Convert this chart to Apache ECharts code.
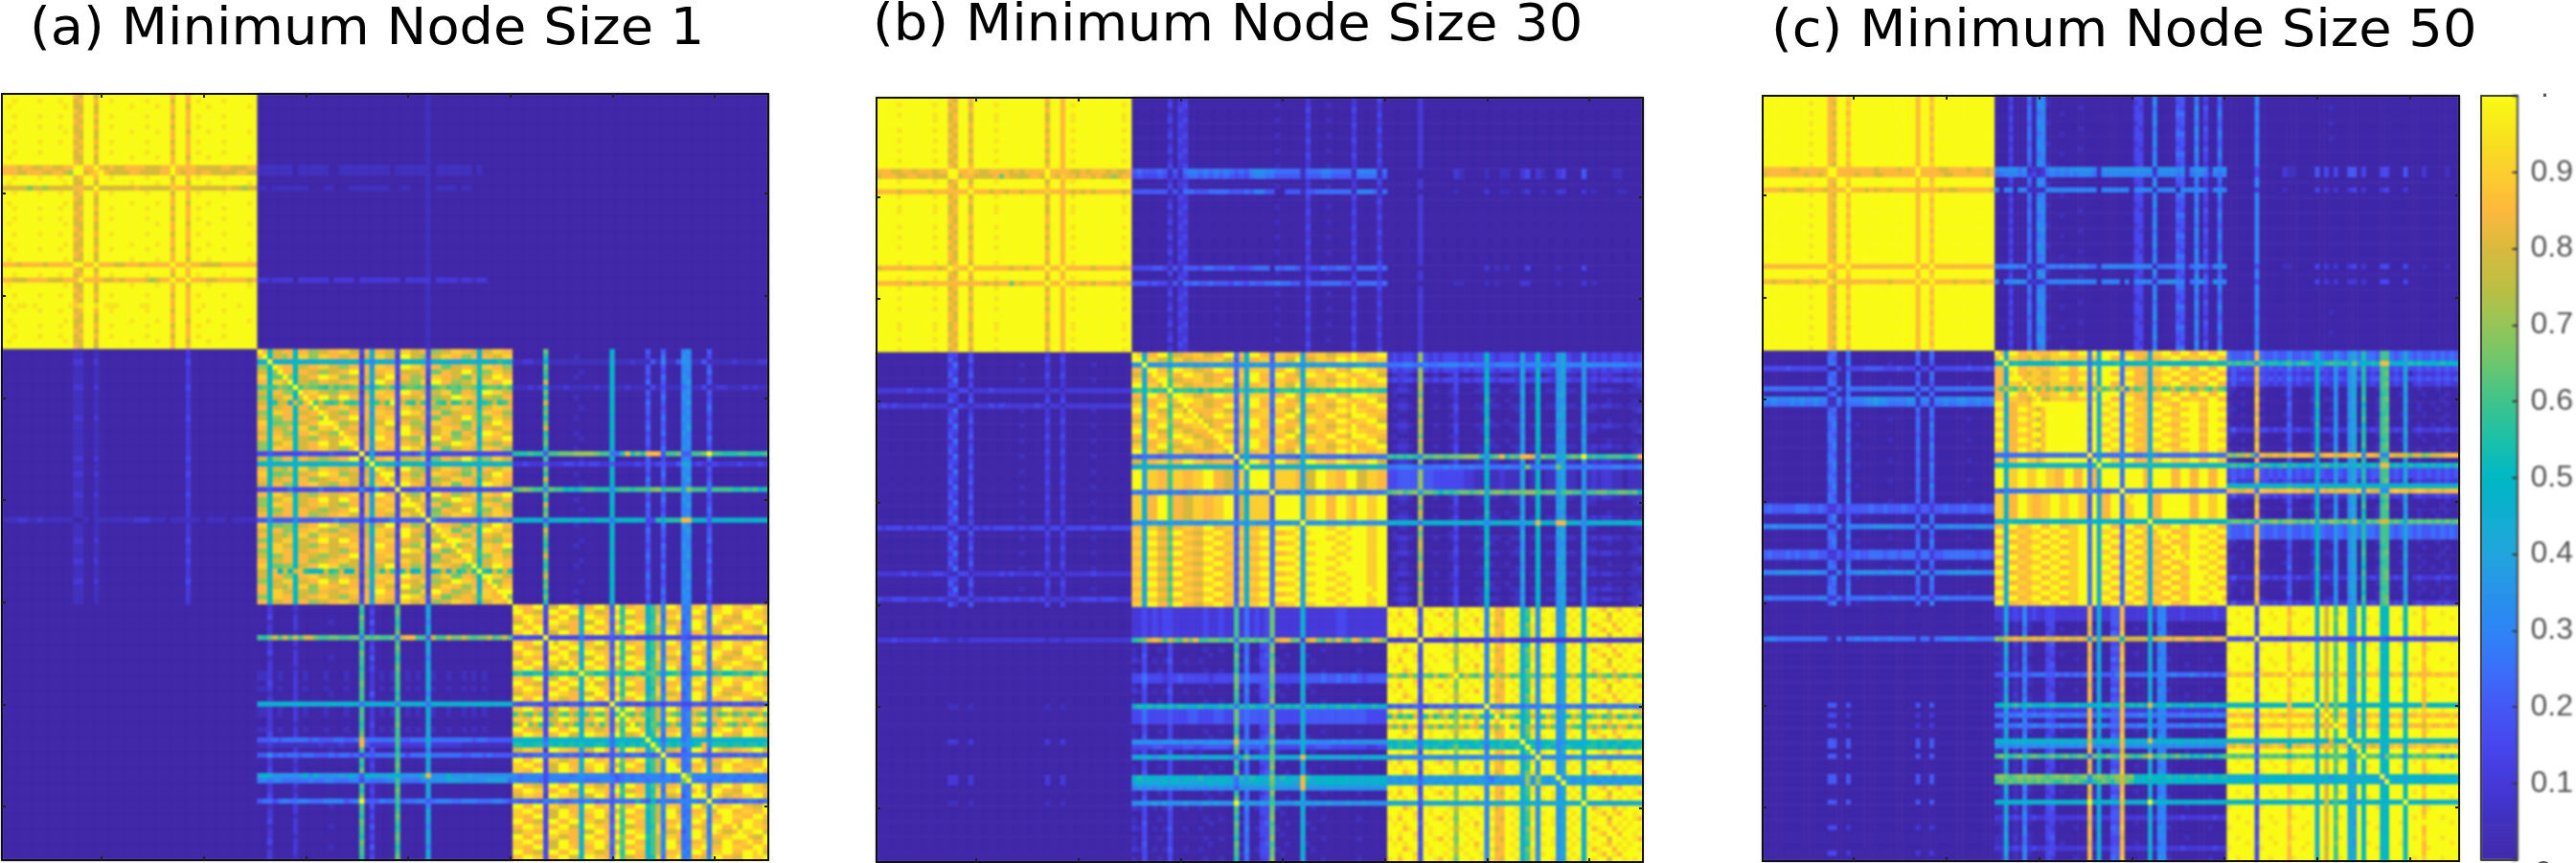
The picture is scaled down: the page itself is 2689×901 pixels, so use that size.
<!DOCTYPE html>
<html><head><meta charset="utf-8">
<script src="https://cdn.jsdelivr.net/npm/echarts@6/dist/echarts.min.js"></script>
<style>html,body{margin:0;padding:0;background:#fff}#c{width:2689px;height:901px}
canvas[data-zr-dom-id="zr_1"]{filter:blur(0.9px)}</style></head>
<body><div id="c"></div>
<script>
// One character = one cell, value = index in this scale / 20.
const valueScale = "0123456789abcdefghijk";
const panelTitles = ["(a) Minimum Node Size 1", "(b) Minimum Node Size 30", "(c) Minimum Node Size 50"];
const colorbarTicks = [0.1,0.2,0.3,0.4,0.5,0.6,0.7,0.8,0.9];
const zeroRows = "zzzzzzzzzz zzzzzzzzzz zzzzzzzzzz zzzzzzzzzz zzzzzzzzzz";
const zeroSegs = {z:"0000000000 0000000000 0000000000 0000000000 0000000000"};

// ---------- panel (a)
const a11Rows = "pqrpqpqrpq pqrpsSqrtq prqpqrpqpr qprupqvrpq pwqprqpqrp";
const a11Segs = {
p:"kkkkkkkkkk kkkkhgkkgk kkkkkkkkkk kkkhkkhkkk kkkkkkkkkk",
q:"kkjkkkkjkk kjkkghkkhk kjkkkkkkjk kkkgkkhkjk kkkjkkkkkk",
r:"kjkkkkkkkk kkjkggkkgk kkkkkjkkkk jkkhkkgkkk jkkkkkkkjk",
s:"hhhghhgghh gghhkkhhkh ghgghhhhgg ghhkhhhhgg ggghhggghh",
S:"hhhgghhhgg hhgekkghik hgggghhggg ghhkhghhgh hggggghhgg",
t:"gggggdggeg gggghhggjg gggggghggg gggihhhggg gggghggegg",
u:"hhhghhhhgh hhhhkkhhkh hhgghhhghh hhhkhhjhhg ggghhhhhhh",
v:"hhggghhhhg gghhhkhhhh gghghhhhge ghhkhhkhhh gghhhhhhgh",
w:"kjkjjkjkkk kkkjijkkjk jjjkkkkjjk kkkhkkhkkj kkkkkkjkkk"};
const a12Rows = "aaaaaaaaaa aaaabbaaca aaaaaaaaaa aaaaaadaaa aaaaaaaaaa";
const a12Segs = {
a:"0000000000 0000000000 0000000000 0001000000 0000000000",
b:"1111111011 1111001111 1111110111 1111011111 1101000000",
c:"1101111111 0001100011 1111110011 0001011110 1100000000",
d:"2212222022 2222022220 2222222202 2222022221 2212200000"};
const a21Rows = "ffhffffhff fffhffffff fhffhfffhf fffgfffhff fhfffhffff";
const a21Segs = {
f:"0000000000 0000110010 0000000000 0000002000 0000000000",
g:"1112211211 1111001011 1111112221 1101111110 1111011111",
h:"0000000000 0000220020 0000000000 0000003000 0000000000"};
const a22Rows = "ABlCDEFmGH nACDEBGFHC RDTBEAGYFH CDAWEGBHFC DAEXGHBFCA";
const a22Segs = {
A:"hhagghhahh eegghhiigg 3h9hhgg3ii ggh3eeggii hhg9ggiihh",
B:"hhaggehaii eeiihhgghh 2g8iigg2kk gge3ggiihh eeh9hhggii",
C:"eeaiihhagg hhiiggeehh 3h7iihh3kk iig4hhddgg hhgbiihhee",
D:"ggaeehhahh ggeegghhkk 2h9hhii3gg ggh3ddhhgg kkgbeeiigg",
E:"iiaddeeagg hhkkiieegg 3g8ggkk2hh eeg3iihhgg ddhbggkkhh",
F:"hhaiiggagg eehhgghhii 2h7kkhh3gg eei2kkhhee ggi9iihhkk",
G:"ggahheeahh iiggeehhgg 2gaiihh3kk hhg3ggiidd hhgakkiigg",
H:"eeaggiiagg hhkkggkkhh 3h8hhii3hh ggi3eeggkk iih9ggeehh",
l:"99k8998a99 8a99a88999 3a6998838a 9a9499a888 aa98a99b99",
m:"cdbcedckce ddcbecdcde 3c7cdec3cd dcd3cdecdc eedacddcec",
n:"gg9bgg9gch bcgcbcgcbc 3gacgck3gc bgc3gcbgbc gcgabcgbcg",
R:"3343333334 3333433333 k383333344 3483333333 3333333333",
T:"9a8a99a9a9 99a9a99a99 4akab9a69a 9a9599aa99 9a99a99a99",
Y:"3343335333 3353333433 6336333k33 3435333333 3343333333",
W:"4464444644 4444464444 3634446444 444k644444 4444644464",
X:"gg9hagaghb a9agbcg9ag 3gagbgc3bg 9ag39bg9gb cgbkb9gcgb"};
const a23Rows = "abeadbcfab cdabacbdab RdTabcdYab cdaWbcadba cdbacdabab";
const a23Segs = {
a:"000000d000 000000000a 0000004004 0006700040 0000000000",
b:"000000b000 0010000009 0000003005 0007600030 0000000000",
c:"000000g000 000000000a 0000005004 0006800040 0000000000",
d:"000000c000 000100000a 0000004003 0006600050 0000000000",
e:"1122119111 1111111119 1112111416 1147711411 1112111122",
f:"1112129111 2111112119 1121111313 1115611311 2211121211",
R:"bbbcbb4ccd ddeeeedcc5 5bhbdbhhh4 ccd44ccdkc cbbbccbbbc",
T:"2232224222 3323233224 2222324234 2248823223 2222322232",
Y:"cdedcc6dcc ab9bccbbb6 bccbcccdeb ccc8eccc5c cccbbcbc9b",
W:"aa9a9a4a9a a9a9a7aaa5 a9aa9a33ba bbbhhaaa4a 99a9a99a9a"};
const a32Rows = "abcdabGabc dabeecedaH eeabecIJdK abcLMabcNd abcdabcdab";
const a32Segs = {
a:"0020000200 0000000000 c020000c00 0009000000 0000000000",
b:"0020000100 0000000000 b030000d00 0008000000 0000000000",
c:"0030000200 0000000000 d020000c00 0008000000 0000000000",
d:"0010000200 0000100000 c040000b00 0006000000 0000000000",
e:"1120100201 0001000100 c020101c01 0109100100 1010100000",
G:"cbdgcgcgcg gdccddccdd 5dcdccd5gh hcc4gccgdd gdcddgcdgc",
H:"9a999a99a9 9999a999a9 5a99a9a5a9 9a95a9a999 a99a9a99a9",
I:"4445455555 4544455445 h555555c44 5559555555 5545544444",
J:"1121111111 1121112111 h422222c22 2229222222 1111111111",
K:"4474545545 5444545545 3545555c53 5558555555 4455454444",
L:"8a9777777a 6a777787a7 4a9988a977 77ah777a77 7877777777",
M:"6656655555 6556655566 3655566c55 5567777888 7777788885",
N:"4553565566 5556666456 k444655c45 5664566655 6665556654"};
const a33Rows = "ABCDEFKABC DEFLABCDEN FPAQBCRSDT EFAUVBCDWE FABCDEFABC";
const a33Segs = {
A:"iihhkk3ggk kih9hhkkg4 kchhiiacg6 kkh56iik6h hkkiihhkkh",
B:"kkhhgg3kkh hkk9iiggh4 ibkkhhacg6 hhi65kkh5i ikkhhkkiig",
C:"hhkkii3hhk kgg9kkiih5 kcgghh9bi5 iik56hhg6k khhggkkiih",
D:"ggiihh2kki ihh8ggkkh4 hbkkii9ci6 ggh46kkh5k igghhiikkg",
E:"kkhhkk3iig ghh9kkhhi4 kdhhkkbcg7 iih56kkg6h hiikkhhggk",
F:"iikkhh3ggk khh9iikkh5 gckkhhacg6 kkg55hhi6g gkkhhiihhk",
K:"334333k333 3335333334 3434333333 3334333433 3333433333",
L:"bc9abb4acb cabkccabb5 cbabcacdb6 abc45aab5b caabcbacdb",
N:"4344434434 344354433k 5434343443 4443344344 3434433434",
P:"cgdcgd3cgd cgd9cgdcg4 ckdcgdbcg6 gdc57gdc6g cdgcdgcdgc",
Q:"dgkdgc3dgh dgc9gdhcg4 gcgkdgadc6 dgc56gdc6d hgdcgdhgdc",
R:"a9a9aa5a9a 9a9a9a9a95 9a9a9aka95 9a957a9a7a a9aaa9a9aa",
S:"bbaabb6bab abab9abba5 ab9bab9kb6 bab77abh7b bbabbabbab",
T:"4544555455 4545345344 554554545k 5445555444 4544545454",
U:"6566663666 6567666665 4565656665 756kd66676 6566566565",
V:"6566653665 5666555666 4565665666 656dk65656 5665656656",
W:"5454546565 4565664554 5555954a56 55666656k5 5454556545"};

// ---------- panel (b)
const b11Rows = "pqpqqpqpqp qpqpsSqptq pqqppqpqpq ppqupqvqpq pqppqqpqpq";
const b11Segs = {
p:"kkkkkkkkkk kkkkhgkkhk kkkkkkkkkk kkkhkkhkkk kkkkkkkkkk",
q:"kkkkjkkkkk kjkkghkkgk kkkjkkkkkk kkkgkkhkjk kkkkkkkkjk",
s:"hhhgghhghh hghhkkhhih gghhhhghgh hhhkhhhhgg hghhhghggh",
S:"ghhhgghhgg hgggkkghhg ggghdhggfg hhgkhgihhg hhghggeghh",
t:"hhhhghhhhh ghhhhhhhkh hhghhghhgh hhhihhhhgh ghghhhhhgh",
u:"ghhhhhghhh hhghkihhkh hhhhhhghhg hhhkhhkhhh hhghhhhhgh",
v:"hhhhhhghhg hhhhhhhhhh hghghhdhgh hhhkhhkhhh ghghhhghhg"};
const b12Rows = "abcabcabca bcabsSabtc abcabcabca bcaubcvabc abcabcabca";
const b12Segs = {
a:"0000000202 2000000000 0000000000 0000200000 0002000030",
b:"0000000302 3000000000 0000000010 0000200010 0002000020",
c:"0000000103 2000000000 0000000000 0000300000 0003000020",
s:"4544454141 5665656565 4546776655 5551555665 5551666615",
S:"3433343131 4554545454 3435665544 4441444554 4441555514",
t:"4444444141 5544455554 4454664400 4441445555 5551666515",
u:"3333443141 4443554445 3334555054 5541333544 5541555535",
v:"4443433141 5454454443 5435445565 5441444555 5441555535"};
const b13Rows = "aaaaaaaaaa aaaabbaaca aaaaaaaaaa aaadaaeaaa aaaaaaaaaa";
const b13Segs = {
a:"0000002000 0000000000 0000000000 0000000000 0000000000",
b:"0000000000 0002100001 0011002302 1002300040 0000110000",
c:"0000000000 0001000002 0011001200 1002200020 1000011000",
d:"0000000000 0000000002 0101000300 0001000030 0000000000",
e:"0000000000 0001100001 0100002200 0001000020 1000000000"};
const b21Rows = "abcabcadab ecabcabcab cabcabcabc abcafbcabc abcgabcahb";
const b21Segs = {
a:"0000000000 0000330030 0000000000 0002002000 0000000000",
b:"0000000000 0000420040 0000000000 0003003000 0000000000",
c:"0000000000 0000250020 0000000010 0002002000 0010000000",
d:"2222223222 3222113312 2232222222 2221221222 2222222222",
e:"2323222223 2222113212 2232322222 2321221222 2222222222",
f:"3233323233 2333113313 2323333232 3331331333 3233323333",
g:"2222232322 2332113312 2222323222 2321221222 2232222222",
h:"3223332223 2232113312 2232332322 3231221222 3332333222"};
const b22Rows = "ABlCDABmCD ABCDABCDAB RDTEEEEYFF FFFWGHGHGH GHGHGHGHGH";
const b22Segs = {
A:"ii8hhkkcgg hhiigghhkk 5h9kkhh5ii hhi8hhiigg iihkhhiikk",
B:"kk9iiggcii gghhhhiigg 4g9hhii4ii ggk8ggiihh kkikiihhii",
C:"hh8kkhhckk iigghhkkii 5h8iiii5hh kkg8iihhkk hhgkkkiihh",
D:"gg9hhiidhh kkiigghhhh 4i9kkhh5kk hhg9kkiihh kkihiikkgg",
E:"kk8iihhcii hhiikkhhgg 5i8kkkk5ii iih8ggkkii hhkkggiihh",
F:"ii9hhkkchh ggiihhiikk 4g9iiii4kk kkk8iikkhh kkihkkiikk",
G:"hh8iiggchh iihhkkhhii 4h9hhii5kk kki8kkkkii kkikkkiikk",
H:"ii9kkhhdkk hhggiikkhh 5i8iikk5hh iik8iikkkk iikkkkiikk",
l:"77k7778787 7878787787 5787877587 7877878787 7877887787",
m:"bcadbcbkbc cbcadbcbcc 5c8bcbc5bc cbc8bcbcbc bcbcbcbcbb",
R:"5455545555 5554545555 k695555655 5548655555 5545555655",
T:"898a898a89 a989a89a89 5ak98a9689 9a889a9a89 89a9a89a89",
Y:"6565656565 5656565656 6965656k56 5659565656 5656565656",
W:"7777877877 8777787877 6878777677 787k777877 7877877777"};
const b23Rows = "iieiaibacd abcdabcdab RaTvvvvYab cdaWbcadba cdbacdabab";
const b23Segs = {
a:"012210e001 001300011a 110011801a 0117811071 2122110111",
b:"001100f000 000300001a 000001700a 0007800071 1000000012",
c:"010000d000 001200000a 000000800a 0008800070 0000000000",
d:"001100g000 000200000b 100100700a 0007700080 0001000010",
i:"232332e323 233323233a 323332833a 3327832272 3232332323",
e:"5556655655 6666556557 5666657667 6577866677 6666666555",
R:"cbcbcb6dcd dcdddeeeb6 cdhbdchhg6 dcc88cdckb cbbcccbbch",
T:"5566656555 5656556558 5556557d56 556d855556 5555665556",
v:"334444e443 333332211a 112111801a 0117811071 2122110111",
Y:"cdecde7ddc acbcddcde8 dedcdddeec cdd8cdcc7c cddccddcda",
W:"9a9a9a5a9a a9a9a8a9a6 9a9a9a7a9h aa9hhaa96a 9a9a9a9a9a"};
const b31Rows = "zzzzzzkzzz zzzzzzzzzo zzzzzznzzz zzznnzzzoz zzzzzzzzzz";
const b31Segs = {
z:"0000000000 0000000000 0000000000 0000000000 0000000000",
k:"2223222222 2322112122 2222222222 2221221222 2222222222",
o:"0000000000 0000110010 0000000000 0001001000 0000000000",
n:"0000000000 0000220020 0000000000 0002002000 0000000000"};
const b32Rows = "eeeeeeGabc dabffcdabH iiiabcIjdK abcLMPbcNd abcdabcdab";
const b32Segs = {
a:"0030000300 0000000000 c150033d01 0009000000 0000000000",
b:"1030010300 0000100100 b050023e00 0008000100 0000100000",
c:"1040000300 0000010000 d150034c00 1009100000 0000000000",
d:"2130101400 1001000000 c060133d10 0009010000 0000000000",
e:"2232323322 2222322322 c252323d22 2229222222 3322222222",
G:"bcdghgcgdc gdhccddccd 5dcdcdc5gh hdd3ghdcgd hdchgcdhgd",
f:"3353332334 3333323333 d464444d33 3339444544 5445434444",
H:"9bab9bab9b a9ab9a9bab 5b9ba9b5ba bab6b9ab9a b9ab9a9b9a",
i:"3353333433 3443334433 d454444d33 3339444444 4444443333",
I:"7767667776 7677677677 h676767e76 7779776667 6767777777",
j:"3333443333 4433444443 d454453c33 3339334443 3333332233",
K:"8a8a78a8a8 8a78a8a8a7 5ad8a8ad8a 8a8ha8a8a8 8a8a7a8a8a",
L:"ab9aa8a9a9 9a9b99a9a8 5b8baa9e9b 9a9hb9a9a9 aaa9a9a9a9",
M:"8a8989a8a8 a8989a8a99 5898a89d88 a88ha8a9aa 9a8a8a8a9a",
P:"6767676767 6767676767 4777777c77 777h777777 7777777777",
N:"7777878777 8777878777 k878787c77 7787878787 7787787777"};
const b33Rows = "ABCDABKCDA BCDLABCDAN BPCQDARSAT BCDUVABCWD ABCDABCDAB";
const b33Segs = {
A:"kkjkki3kjk kjkekjkkj6 khhkjk9cj7 jkk78kjk9k kjhkjhkkjk",
B:"jkhkkj3kkj hkjdkkjkk6 jhgkkj9cj7 kkj78jkj9k jkkgkkjkjh",
C:"kjkjkk4jkk kjkekjkhk6 khhkjk9bk7 jkj78kjk9j kkjhkjkjkk",
D:"kkkhjk3kjk kkjfjkkjk6 jghkkj8dj7 kkk78jkk9k hjkkhkjkkj",
K:"222322k222 2232222223 2323222222 2222222232 3222222222",
L:"dgdcgd4dcg cdgkcgdcg6 cgdgcdacd7 dgc78dgc9d cgdcgdcgdc",
N:"4545454354 545545455k 5656565656 6565656565 5656565656",
P:"bgbdbg4bgb dgbdgbdgb6 bkbgdb9bg7 bgd78bgd9b dgbdgbdgbd",
Q:"gdgchg3gdg cgdegdhgc6 gdgkcg9dg7 cgd78gdc9g dgcgdhgcgd",
R:"a9b9ba5a9a b9aba9ab96 a9bab9k9a6 9ab67a9a8a bab9ab9aba",
S:"bab9ab5bab 9abdab9ab5 bab9abakb6 ab968ba9ab babab9abab",
T:"6767667677 6767676676 676767677k 6767767867 7676767676",
U:"7878784878 7878787876 5787878e7e 878k787878 7878787878",
V:"7878785787 8787878787 6878787e7e 8787k87878 8787878787",
W:"8988884988 9889889887 8989898998 98898989k9 8989898989"};

// ---------- panel (c)
const c11Rows = "pqpqpqpqpq pqpqsSpqtq pqpqpqpqpq pqpupqvqpq pqpqpqpqpq";
const c11Segs = {
p:"kkkkkkkkkk kkkkhhkkik kkkkkkkkkk kkkhkkhkkk kkkkkkkkkk",
q:"kkkkkkkkkk jkkkhgkkhk kkkkkkkkkk kkkhkkikkk kkkkkkkkkk",
s:"hhhhhhgghh hhhhkkhhhh hhhhghhhhg hhhkhhhhgg hhhhghhhgh",
S:"ghhhhhhhhg hhghkkhhhh ghhhgghhhh hhhkhhhhhg ghhhhhhhgh",
t:"hhhhghhggh hhhghhhhkh hhghghhghh hhhhhhhhgh gghhhhhhhg",
u:"hhhhhhhhhh hhhhkihhkh hhhhhhhhhh hhhkhhkhhh hhhhhhhhhh",
v:"hhghhhhghh hghhkihhhh hhhhhhhghh hhhkhhkhhh hghhhhhghh"};
const c12Rows = "abcdabcdab cdabsSabtd abcdabcdab cdaubcvdab cdabcdabcd";
const c12Segs = {
a:"0003000506 6000000000 0000000000 3300600004 4006030050",
b:"0002000407 6100000000 0000000000 2300700003 4005020040",
c:"0003000506 7000000010 0000000000 3200500004 3007040050",
d:"0002000505 6000100000 0000000000 3300600005 5006030060",
s:"6767757121 2676767777 7617777777 7777177776 7167761767",
S:"5566656231 2565656566 6516666666 6666266665 6156652656",
t:"6066066111 1666666666 6606666660 6666166660 6666651666",
u:"6566656121 2565656566 5516666666 6666155556 6156652676",
v:"6066776121 2566666666 6606666060 6666166776 6056751766"};
const c13Rows = "aabaabaaba aaaaeeaafa aaaaaaaaaa aaagaahaaa aabaaabaaa";
const c13Segs = {
a:"0000006000 0000000000 0000000000 0000000000 0000000000",
b:"0000005000 0000000000 0010000000 0000000000 0000000000",
e:"0000003000 0021100004 0303004403 0003300040 0020000100",
f:"0000002000 0010000003 0202002302 0002300020 0000000000",
g:"0000003000 0011000003 0202002302 0003300030 0010000100",
h:"0000003000 0000000003 0202002202 0003300030 0000000000"};
const c21Rows = "abceabcfag Gabcdabcda bcdabcdabc iidakbcdaj jbcldabcmd";
const c21Segs = {
a:"0000000000 0000450050 0000000000 0005005000 0000000000",
b:"0000000000 0000540050 0000000000 0004005000 0000000000",
c:"0000000000 0000550060 0000000100 0005004000 0000100000",
d:"0000000000 0000460040 1000000000 0005006000 0000000000",
e:"3333343333 3333003033 3344443334 3330330333 3333433343",
f:"5555555555 4555115155 5555555555 5551551555 5555555555",
g:"6676667676 6766116266 6677877666 6771661667 6677667667",
G:"5565556565 5655115155 5566766555 5661551556 5566556556",
i:"4544444555 4454224244 4445445444 5442442445 4445444544",
j:"4544454544 5544224244 5445554554 5552552445 5555554554",
k:"6676666666 6666116166 6666777766 6661661666 7666667766",
l:"6667777766 7766116166 7777677677 6771661666 7777777666",
m:"5655555555 5566225255 5556555565 5552552556 5555555555"};
const c22Rows = "ABlABABmAB CDCDCDCDCD RDTEEEEYFF FFFWGHGHGH GHGHGHGHGH";
const c22Segs = {
A:"hh9kkhhiih hhiikkhhkk 5k8kkkk5ii hhh8iikkhh kkhhkkhhkk",
B:"hh8iihhgii ggiiiihhii 5i9kkhh5kk hhg8hhiikk hhiihhkkhh",
C:"kk9hhiihkk hkkkkkkkkk 5k8iikk5ii iih8kkiihh kkkkiikkkk",
D:"ii8hhkkiig ikkkkkkkkk 4k9kkii5kk hhh9iikkii iikkhhkkii",
E:"kk9iikkiik kiihhkkhhk 5h8kkkk5kk kkh8kkkkhh kkhhkkhhkk",
F:"ii9hhkkihh iikkiikkii 4k8hhkk5ii kkk9hhkkkk kkhhkkiikk",
G:"hh8kkhhikk hhkkhhiikk 5k9kkhh4kk hhi8iihhkk hhkkiikkhh",
H:"kk9hhiihii kkiikkiikk 5k8iikk5ii kkh9hhkkhh iikkkkiikk",
l:"a9k9ba9a9a 9a9b9a9a9b 5a8a9aba7a 9a9bb9a9a9 a9a9a9aba9",
m:"gcgdcgdkgd hdgcgdcgdh 5dgcdgcg6g cdg9dgcdgc dgcdgdcgdc",
R:"5555555555 5555565555 k575555755 5569655555 5565555655",
T:"9a9a9a9a9a a99a9a9a9a 6ak9a9a8a9 9a9b9a9a9a a9a9a9a9a9",
Y:"5465555555 5555565555 7555455k55 5559555555 5555555655",
W:"9a9b9a9a9a 9a9a9a9a9a 7a9a9a9a9a a9ak9a9a9a 9a9a9a9a9a"};
const c23Rows = "eelfgfgabc dabcdgabcd RaTffgOYgb cdaWeeeabc abdcgabdcg";
const c23Segs = {
a:"110000h100 000400001a 001700780b 001cc00080 0100010000",
b:"100100g000 001400001a 000600790b 000bc00170 0010000100",
c:"000000i100 000300002a 011700680c 001cd00080 0000001000",
d:"100100h000 000500001b 000700780a 001cc00070 0100100100",
e:"544454h544 544644545a 544754785b 554cc54585 4544545454",
f:"343433h434 343634343a 433743784b 344cc34383 3434343434",
g:"242222g332 323423222a 232722782b 232cd23280 2322232322",
l:"cbcbcc7cab babc9bcb97 abcbbb9d8a 9bahha9a8b aba9a9baa9",
R:"edeegd5hgg hgghghhhg5 ghhgghhgi6 hhg66hgggd ggdeggghhh",
T:"bcbcba7bcb abcab9ab97 bcab9b8ab8 ab9hhab8ab 9abab9ab9b",
O:"9a9a9a8a9a 9a9b9a9a98 a9a9a9a9a9 a9a88a9a9a 9a9a9a9a9a",
Y:"hhgghh5ihh ghhihhghg7 hghghhhgi7 hgg77hihhg hihghhghhh",
W:"cddcdc6dcd ecdedcdce7 dcedcdcgb8 dcdggcdc8d cdcdcdcdcd"};
const c31Rows = "zzzzzzkzzz zzzzzzzzzn zozozznnzn zzznnzzznz zzzozzzzoz";
const c31Segs = {
z:"0000000000 0000000000 0000000000 0000000000 0000000000",
k:"5665555555 5555105055 6555655655 5551551556 6655665555",
n:"0000000000 0000440040 0000000000 0004004000 0000000000",
o:"0000000000 0000330020 0000000000 0002002000 0000000000"};
const c32Rows = "eeeabcGdab cdafabcdaH eiaibcIJdK abcLMabcNd aebcadbeac";
const c32Segs = {
a:"0180106100 0330000000 h090044h00 0009066000 0000000000",
b:"1190105100 0230100000 g180033h00 1008056000 0000000000",
c:"0170106000 0320000100 h190054i00 0009076100 0000001000",
d:"1180205100 0340000000 h080033g00 0008066000 0100000000",
e:"2282326232 2332222222 h292244h22 2229266222 3222222322",
G:"edgghggghg hgghghgghg 7g8ggggagg gggagghhgh hgghhgghhg",
f:"4454545455 5445454545 h494446h55 5559566565 5565454545",
H:"9ab9c9ab9a 9ab9a9ab9a 9a9ab9agab ab9ha9ab9a 9ab9a9ab9a",
i:"5565565565 5655655655 h596555h55 5659566555 6556556565",
I:"9a9a9a9a9a a9a9a9a9a9 g9a9a9ah9a 9a9h9a9a9a a9a9a9a9a9",
J:"7676767676 7676767676 h676767h76 7679676767 7676767676",
K:"cdcbcdbcdc bcdbcdbcdc 5dcbdcbhdc bcdhbcdbcd bc9b9bc9bc",
L:"dedcdedede dcdededcde 7dedcdegde aaabaaabaa baabaabaab",
M:"cdcdcdcdcd cdcbcdcdcb 7bcdcbdgdc a9a9aa9a9a a9a9a9a9a9",
N:"9a9a9a9a9a 9a9a9a9a9a k9a9a9aha9 9a9k9a9a9a 9a9a9a9a9a"};
const c33Rows = "ABCDABKCDA BCDLABCDAN BPCQDARSAT BCDUVABCWD ABCDABCDAB";
const c33Segs = {
A:"kkkkkk3kkk kkkhkkkkk9 kgkckk98ka kkkaakkkak kkhkkkkkkk",
B:"kkjkkk3kkj kkkhjkkkk9 kgkcjk98ka kkkaakkkak jkikkkjkkk",
C:"kkkkjk4kkk jkkikkkjk9 kgkdkk87ka jkkaakkjak kkhkkkkkjk",
D:"jkkkkk3jkk kkkhkkjkk8 kfkckk98ka kkj9akkkak kkhjkkkkkk",
K:"333433k333 3323333334 3333333333 3334333333 3333333333",
L:"hihihh5ihh ihikhihih9 hghdih99hb hihaahihah ihhhihiihi",
N:"9a9a9a7a9a 9a9ha9a9ak 9g9d9a9a9a a9aaa9a9a9 a9g9a9a9a9",
P:"hhihhh4hih ihghihhih9 hkgchh98ha hiha9hihah hihhihhhih",
Q:"ihhihh3hih hhihhihih8 ghgkih98ha hihaahihah hhgihhihhi",
R:"a9a9a96a9a 9a9a9a9a98 a9g9a9ka9b 9a9aa9a9a9 a9a9a9a9a9",
S:"hgihgh4hgh ihgahghih8 ghgdih9kha hgh99hihah hihghihgih",
T:"dcdcdc5dcd cdcacdcdc9 cbcdcb99dk cdc7dcdc7c dcdcdc7c7c",
U:"9999a96a9a 9a9a9a9999 9a7a8a8899 8a8k8a9a8a 9a9a9a9a9a",
V:"a9a9a96a9a a9a9a9a9a9 8a8a9a8a8a a8a7ka8a8a a9a9a99a9a",
W:"9a9a9a6a9a 9a9a9a9a9a 9g9c9a8a7a 9a9a9a9ak9 a9a9a9a9a9"};

// ---------- assembling the three 150x150 tables
const panelBlocks = [
 [[a11Rows,a11Segs],[a12Rows,a12Segs],[zeroRows,zeroSegs],[a21Rows,a21Segs],[a22Rows,a22Segs],[a23Rows,a23Segs],[zeroRows,zeroSegs],[a32Rows,a32Segs],[a33Rows,a33Segs]],
 [[b11Rows,b11Segs],[b12Rows,b12Segs],[b13Rows,b13Segs],[b21Rows,b21Segs],[b22Rows,b22Segs],[b23Rows,b23Segs],[b31Rows,b31Segs],[b32Rows,b32Segs],[b33Rows,b33Segs]],
 [[c11Rows,c11Segs],[c12Rows,c12Segs],[c13Rows,c13Segs],[c21Rows,c21Segs],[c22Rows,c22Segs],[c23Rows,c23Segs],[c31Rows,c31Segs],[c32Rows,c32Segs],[c33Rows,c33Segs]]
];
const strip = s => s.replace(/ /g,'');
function cells(blocks){
  const out=[];
  for(let bi=0;bi<3;bi++)for(let bj=0;bj<3;bj++){
    const [rows,segs]=blocks[bi*3+bj], map=strip(rows);
    for(let r=0;r<50;r++){
      const seg=strip(segs[map[r]]||"");
      for(let c=0;c<50;c++){
        const R=bi*50+r, C=bj*50+c;
        const v=R===C?1:Math.max(0,valueScale.indexOf(seg[c]||'0'))/20;
        out.push([C,R,v]);
      }
    }
  }
  return out;
}
const indexLabels = Array.from({length:150},(_,i)=>String(i+1));
const colorLevels = Array.from({length:200},(_,i)=>(i+0.5)/200);
const parula = ['#3e26a8','#4030be','#4538d8','#4646ee','#4458f5','#3a6ffa','#2e84f5','#2692ea','#1ea3dc','#0fadd0','#00b8c4','#1cc0a8','#3fc48c','#6cc66e','#95c558','#bcbf42','#d6b93a','#fdb83c','#fbce2e','#f7e41e','#f9fb15'];
const frames = [
 {left:2,top:98,width:800,height:800},
 {left:915,top:102,width:800,height:798},
 {left:1840,top:100,width:727,height:799}
];
const bar = {left:2590,top:100,width:42,height:797.5};

const grids=[],xAxes=[],yAxes=[],series=[];
const tickLine={show:true,lineStyle:{color:'#111',width:2}};
frames.forEach((f,i)=>{
  grids.push(Object.assign({containLabel:false},f));
  const tick={show:true,inside:true,length:4,alignWithLabel:true,lineStyle:{color:'#222',width:2},interval:(k)=>(k+1)%20===0};
  const base={type:'category',data:indexLabels,gridIndex:i,axisLabel:{show:false},axisTick:tick,axisLine:tickLine,splitLine:{show:false},z:6,zlevel:2};
  const xi=xAxes.length, yi=yAxes.length;
  xAxes.push(Object.assign({},base,{position:'bottom'}),Object.assign({},base,{position:'top'}));
  yAxes.push(Object.assign({},base,{position:'left',inverse:true}),Object.assign({},base,{position:'right',inverse:true}));
  series.push({type:'heatmap',zlevel:1,xAxisIndex:xi,yAxisIndex:yi,data:cells(panelBlocks[i]),progressive:0,animation:false,emphasis:{disabled:true},itemStyle:{borderWidth:0}});
});
// colour bar
grids.push(Object.assign({containLabel:false},bar));
const bg=grids.length-1, barLine={show:true,lineStyle:{color:'#444',width:2}};
const bxi=xAxes.length, byi=yAxes.length;
xAxes.push({type:'category',data:['c'],gridIndex:bg,position:'bottom',axisLabel:{show:false},axisTick:{show:false},axisLine:barLine,z:6,zlevel:2},
           {type:'category',data:['c'],gridIndex:bg,position:'top',axisLabel:{show:false},axisTick:{show:false},axisLine:barLine,z:6,zlevel:2});
yAxes.push({type:'category',data:colorLevels.map(String),gridIndex:bg,position:'left',axisLabel:{show:false},axisTick:{show:false},axisLine:barLine,z:6,zlevel:2},
           {type:'value',gridIndex:bg,position:'right',min:0,max:1,interval:0.1,splitLine:{show:false},z:6,zlevel:1,axisLine:barLine,
            axisTick:{show:true,inside:true,length:5,lineStyle:{color:'#333',width:2}},
            axisLabel:{margin:14,color:'#555',fontSize:32,fontFamily:'Liberation Sans',
              formatter:v=>colorbarTicks.some(t=>Math.abs(t-v)<1e-6)?v.toFixed(1):''}});
series.push({type:'heatmap',zlevel:1,xAxisIndex:bxi,yAxisIndex:byi,data:colorLevels.map((v,i)=>[0,i,v]),progressive:0,animation:false,emphasis:{disabled:true},itemStyle:{borderWidth:0}});

const titlePos=[[31,6],[911,2],[1849,8]];
const graphics=panelTitles.map((t,i)=>({type:'text',x:titlePos[i][0],y:titlePos[i][1],scaleX:1.055,silent:true,
  style:{text:t,font:'53px "DejaVu Sans"',fill:'#000',textVerticalAlign:'top'}}));
graphics.push({type:'text',x:2652,y:76,silent:true,style:{text:'.',font:'32px "Liberation Sans"',fill:'#555'}});
graphics.push({type:'text',x:2646,y:896,silent:true,style:{text:'0',font:'32px "Liberation Sans"',fill:'#555'}});

const chart=echarts.init(document.getElementById('c'),null,{renderer:'canvas',width:2689,height:901});
chart.setOption({animation:false,backgroundColor:'#fff',tooltip:{show:false},
  visualMap:{type:'continuous',show:false,min:0,max:1,dimension:2,seriesIndex:[0,1,2,3],inRange:{color:parula}},
  grid:grids,xAxis:xAxes,yAxis:yAxes,series:series,graphic:{elements:graphics}});
</script></body></html>
